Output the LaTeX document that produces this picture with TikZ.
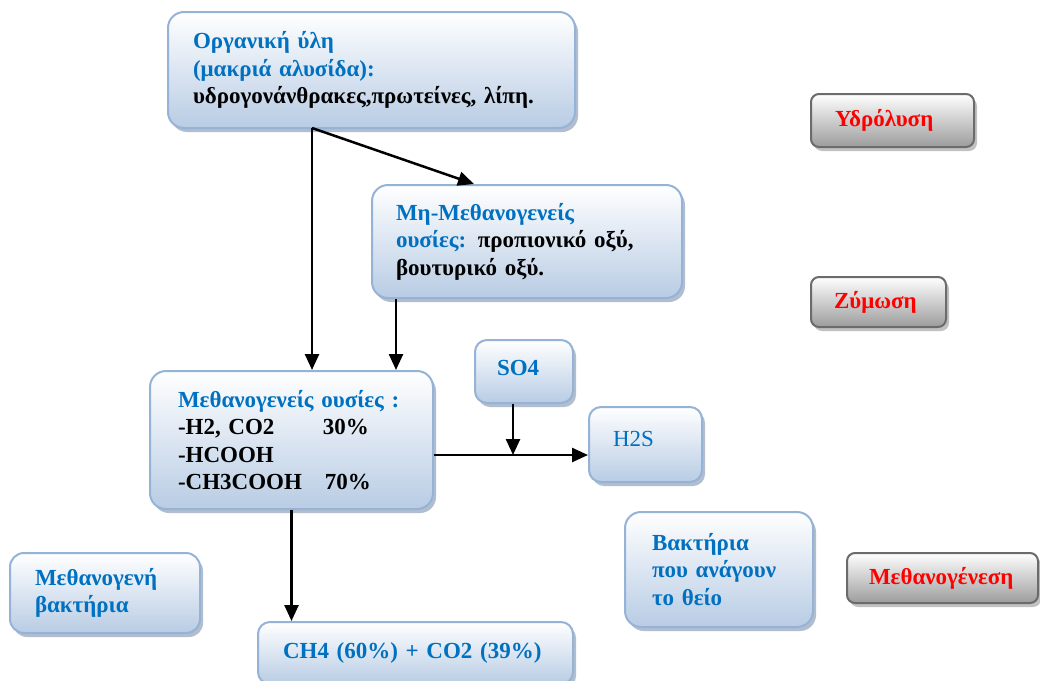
\documentclass[tikz,border=0pt]{standalone}
\usepackage{fontspec}
\setmainfont{Liberation Serif}
\usetikzlibrary{shadows,arrows.meta,calc}
\definecolor{txtblue}{HTML}{0070C0}
\definecolor{boxborder}{HTML}{95B3D7}
\definecolor{boxbottom}{HTML}{B8CCE4}
\definecolor{grayborder}{HTML}{6B6B6B}
\definecolor{graybottom}{HTML}{9C9C9C}
\definecolor{shadowblue}{HTML}{7F93AE}
\newcommand{\bl}[1]{\textcolor{txtblue}{#1}}
\begin{document}
\begin{tikzpicture}[x=1pt,y=-1pt,
  bluebox/.style={draw=boxborder, line width=2pt, rounded corners=16pt,
    top color=white, bottom color=boxbottom,
    drop shadow={shadow xshift=3pt, shadow yshift=-4pt, fill=shadowblue, opacity=0.6},
    font=\fontsize{23}{27.5}\selectfont\bfseries, text=black, inner sep=0pt, align=left},
  graybox/.style={draw=grayborder, line width=2pt, rounded corners=8pt,
    top color=white, bottom color=graybottom,
    drop shadow={shadow xshift=3pt, shadow yshift=-4pt, fill=black!40, opacity=0.6},
    font=\fontsize{23}{27.5}\selectfont\bfseries, text=red, inner sep=0pt, align=left},
  arr/.style={-{Triangle[length=16pt,width=14pt]}, line width=2.5pt, draw=black}]
\useasboundingbox (0,0) rectangle (1040,680);
\fill[white] (0,0) rectangle (1040,680);

% blue boxes
\node[bluebox, minimum width=407pt, minimum height=116pt, text width=357pt] (org) at (371.5,70)
  {\mbox{\bl{Οργανική ύλη}}\\\mbox{\bl{(μακριά αλυσίδα):}}\\\mbox{υδρογονάνθρακες,πρωτείνες, λίπη.}};
\node[bluebox, minimum width=310pt, minimum height=113pt, text width=262pt] (mh) at (527,241.5)
  {\mbox{\bl{Μη-Μεθανογενείς}}\\\mbox{\bl{ουσίες:} προπιονικό οξύ,}\\\mbox{βουτυρικό οξύ.}};
\node[bluebox, minimum width=283pt, minimum height=138pt, text width=227pt] (meth) at (291.5,440)
  {\mbox{\bl{Μεθανογενείς ουσίες :}}\\\mbox{\makebox[145pt][l]{-H2, CO2}30\%}\\\mbox{-HCOOH}\\\mbox{\makebox[147pt][l]{-CH3COOH}70\%}};
\node[bluebox, rounded corners=12pt, minimum width=98pt, minimum height=63pt, text width=54pt, text depth=8pt] (so4) at (524,371.5)
  {\mbox{\bl{SO4}}};
\node[bluebox, rounded corners=12pt, minimum width=113pt, minimum height=75pt, text width=65pt, text depth=12pt] (h2s) at (645.5,444.5)
  {\mbox{\mdseries\bl{H2S}}};
\node[bluebox, minimum width=188pt, minimum height=115pt, text width=134pt] (bakt) at (719,569.5)
  {\mbox{\bl{Βακτήρια}}\\\mbox{\bl{που ανάγουν}}\\\mbox{\bl{το θείο}}};
\node[bluebox, rounded corners=14pt, minimum width=190pt, minimum height=80pt, text width=140pt] (mbakt) at (105,593)
  {\mbox{\bl{Μεθανογενή}}\\\mbox{\bl{βακτήρια}}};
\node[bluebox, rounded corners=12pt, minimum width=315pt, minimum height=62pt, text width=265pt] (ch4) at (415.5,653)
  {\mbox{\bl{CH4 (60\%) + CO2 (39\%)}}};

% gray boxes
\node[graybox, minimum width=163pt, minimum height=53pt, text width=115pt] (ydr) at (892.5,120.5)
  {\mbox{Υδρόλυση}};
\node[graybox, minimum width=135pt, minimum height=50pt, text width=89pt] (zym) at (878.5,302)
  {\mbox{Ζύμωση}};
\node[graybox, minimum width=191pt, minimum height=50pt, text width=147pt] (mgen) at (942.5,578)
  {\mbox{Μεθανογένεση}};

% connectors
\coordinate (split) at (312,128);
\coordinate (j) at (513,455);
\draw[arr] (split) -- (split |- meth.north);
\draw[arr] (split) -- ($(mh.north west)+(103,0)$);
\draw[arr] ($(mh.south west)+(25,0)$) coordinate (mhs) -- (mhs |- meth.north);
\draw[arr] (meth.east |- j) -- (j -| h2s.west);
\draw[arr] (j |- so4.south) -- (j);
\draw[arr] (meth.south) -- (meth.south |- ch4.north);
\end{tikzpicture}
\end{document}
